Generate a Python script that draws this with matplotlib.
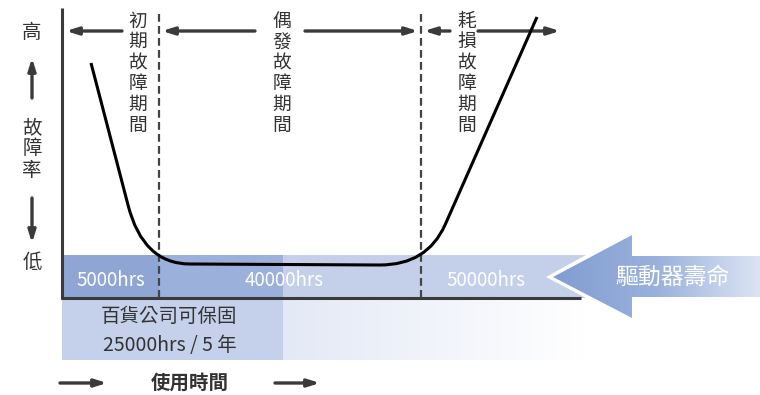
import matplotlib
matplotlib.use("Agg")
import matplotlib.pyplot as plt
import numpy as np
from matplotlib.path import Path
from matplotlib.patches import PathPatch, Polygon, Rectangle
from matplotlib.colors import LinearSegmentedColormap

plt.rcParams['font.family'] = ['Noto Sans CJK TC', 'DejaVu Sans']

# ---- data ----
period_labels = ["初期故障期間", "偶發故障期間", "耗損故障期間"]
band_labels = ["5000hrs", "40000hrs", "50000hrs"]
warranty_lines = ["百貨公司可保固", "25000hrs / 5 年"]
life_label = "驅動器壽命"
y_high, y_label, y_low = "高", "故障率", "低"
x_label = "使用時間"
# bathtub curve (drawing units)
curve_x = [91, 128, 143, 190, 380, 427, 445, 537]
curve_y = [63, 205, 264, 264, 265, 265, 225, 17]
curve_codes = [Path.MOVETO, Path.LINETO, Path.CURVE3, Path.CURVE3,
               Path.LINETO, Path.CURVE3, Path.CURVE3, Path.LINETO]

W, H = 760, 395
fig = plt.figure(figsize=(W / 100, H / 100), dpi=100)
ax = fig.add_axes([0, 0, 1, 1])
ax.set_xlim(0, W)
ax.set_ylim(H, 0)
ax.axis('off')

dark = '#3a3a3a'
txt = '#333333'

# geometry
x0, xd1, xd2, xmid = 62, 159, 421, 283
band_top, axis_y = 255, 298
panel_bot = 360

# bottom panel
ax.add_patch(Rectangle((x0, axis_y), xmid - x0, panel_bot - axis_y, color='#c5d0ea', lw=0, zorder=1))
grad = np.linspace(0, 1, 256).reshape(1, -1)
cm_fade = LinearSegmentedColormap.from_list('fade', ['#e3e9f6', '#ffffff'])
ax.imshow(grad, extent=(xmid, 585, panel_bot, axis_y), cmap=cm_fade, aspect='auto', zorder=1)

# band
ax.add_patch(Polygon([(xmid, band_top), (586, band_top), (546, 277), (586, axis_y), (xmid, axis_y)],
                     closed=True, color='#c4d0ea', lw=0, zorder=1))
ax.add_patch(Rectangle((x0, band_top), xd1 - x0, axis_y - band_top, color='#8fa6d4', lw=0, zorder=1))
ax.add_patch(Rectangle((xd1, band_top), xmid - xd1, axis_y - band_top, color='#9bb0da', lw=0, zorder=1))

# big arrow with gradient
arrow_pts = [(553, 277), (632, 235), (632, 256), (760, 256), (760, 297), (632, 297), (632, 318)]
arrow_poly = Polygon(arrow_pts, closed=True, facecolor='none', lw=0)
ax.add_patch(arrow_poly)
cm_arrow = LinearSegmentedColormap.from_list('arr', ['#819dd1', '#9ab1dc', '#dce4f4'])
im = ax.imshow(grad, extent=(553, 760, 318, 235), cmap=cm_arrow, aspect='auto', zorder=2)
im.set_clip_path(arrow_poly)
ax.text(672, 277, life_label, color='white', fontsize=16.5, ha='center', va='center', zorder=3)

# band labels
band_centers = [111, 284, 486]
for cx, lab in zip(band_centers, band_labels):
    ax.text(cx, 281, lab, color='white', fontsize=13.5, ha='center', va='center', zorder=3)

# warranty text
ax.text(169, 317, warranty_lines[0], color=txt, fontsize=14, ha='center', va='center', zorder=3)
ax.text(170, 345, warranty_lines[1], color=txt, fontsize=14, ha='center', va='center', zorder=3)

# axes lines
ax.plot([x0, x0], [8, axis_y + 1], color=dark, lw=2.2, solid_capstyle='butt', zorder=4)
ax.plot([x0 - 1, 581], [axis_y, axis_y], color=dark, lw=2.2, solid_capstyle='butt', zorder=4)

# dashed lines
for xd in (xd1, xd2):
    ax.plot([xd, xd], [14, axis_y], color='#444444', lw=1.6, dashes=(3.5, 1.9), zorder=4)

# curve
path = Path(list(zip(curve_x, curve_y)), curve_codes)
ax.add_patch(PathPatch(path, facecolor='none', edgecolor='black', lw=2.2, zorder=5))

# arrows helper
def arr(x1, y1, x2, y2):
    ax.annotate('', xy=(x2, y2), xytext=(x1, y1),
                arrowprops=dict(arrowstyle='-|>,head_length=0.7,head_width=0.22', lw=2.4,
                                color=dark, shrinkA=0, shrinkB=0), zorder=4)

ya = 31
arr(122, ya, 66, ya)
arr(255, ya, 162, ya)
arr(305, ya, 418, ya)
arr(450, ya, 424, ya)
arr(478, ya, 560, ya)

# vertical period labels
label_x = [138, 282, 467]
for lx, lab in zip(label_x, period_labels):
    for i, ch in enumerate(lab):
        ax.text(lx, 21 + i * 20.8, ch, color=txt, fontsize=13.5, ha='center', va='center', zorder=6)

# y-axis labels
ax.text(32, 33, y_high, color=txt, fontsize=14, ha='center', va='center')
arr(32, 98, 32, 58)
for i, ch in enumerate(y_label):
    ax.text(32, 128 + i * 21, ch, color=txt, fontsize=14, ha='center', va='center')
arr(32, 198, 32, 243)
ax.text(32, 262, y_low, color=txt, fontsize=14, ha='center', va='center')

# x label
ax.text(190, 383, x_label, color=txt, fontsize=14, fontweight='bold', ha='center', va='center')
arr(60, 383, 107, 383)
arr(275, 383, 320, 383)

fig.savefig('out.png', dpi=100)
